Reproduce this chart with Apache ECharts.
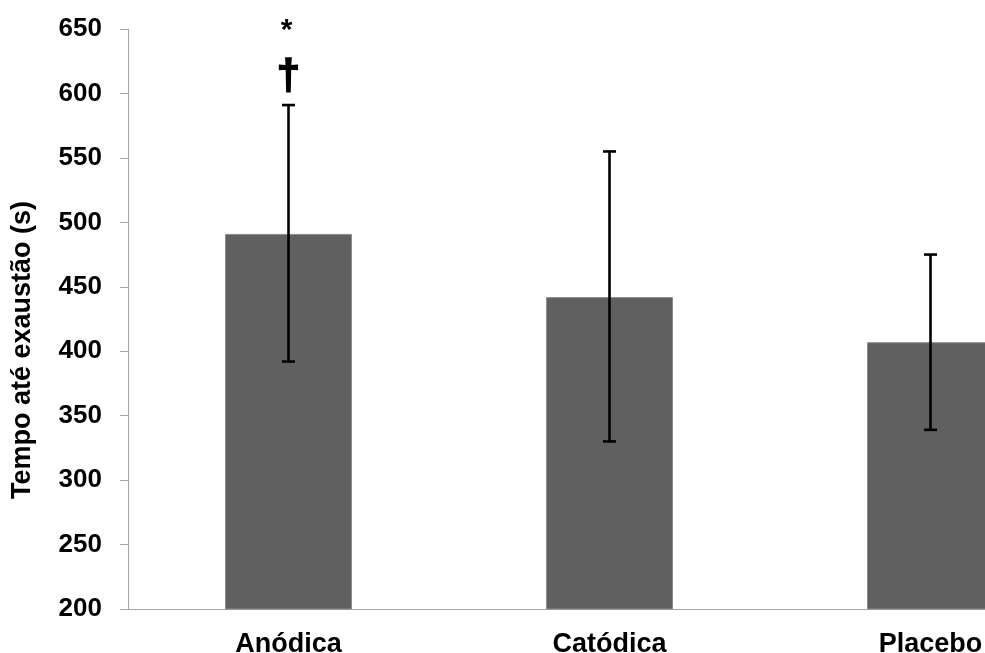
<!DOCTYPE html>
<html>
<head>
<meta charset="utf-8">
<script src="https://cdn.jsdelivr.net/npm/echarts@6/dist/echarts.min.js"></script>
<style>
html,body{margin:0;padding:0;background:#fff;}
#chart{width:985px;height:653px;}
</style>
</head>
<body>
<div id="chart"></div>
<script>
var categories = ['Anódica', 'Catódica', 'Placebo'];
var means = [491, 442, 407];
var errLow = [392, 330, 339];
var errHigh = [591, 555, 475];
var marksAsterisk = ['*', '', ''];
var marksDagger = ['†', '', ''];
var yTicks = [200, 250, 300, 350, 400, 450, 500, 550, 600, 650];

var FONT = '"Liberation Sans", Arial, sans-serif';
var chart = echarts.init(document.getElementById('chart'), null, {renderer: 'canvas'});

var errData = categories.map(function (c, i) { return [i, errLow[i], errHigh[i]]; });

chart.setOption({
  animation: false,
  backgroundColor: '#ffffff',
  grid: {left: 128, top: 29, width: 963, height: 580, containLabel: false, outerBoundsMode: 'none'},
  xAxis: {
    type: 'category',
    data: categories,
    axisLine: {lineStyle: {color: '#a6a6a6', width: 1}},
    axisTick: {show: false},
    axisLabel: {color: '#000', fontFamily: FONT, fontWeight: 'bold', fontSize: 27, margin: 22}
  },
  yAxis: {
    type: 'value',
    min: yTicks[0],
    max: yTicks[yTicks.length - 1],
    interval: 50,
    name: 'Tempo até exaustão (s)',
    nameLocation: 'middle',
    nameRotate: 90,
    nameGap: 92,
    nameTextStyle: {color: '#000', fontFamily: FONT, fontWeight: 'bold', fontSize: 27, padding: [0, 62, 0, 0]},
    axisLine: {show: true, lineStyle: {color: '#a6a6a6', width: 1}},
    axisTick: {show: true, length: 8, lineStyle: {color: '#a6a6a6'}},
    splitLine: {show: false},
    axisLabel: {color: '#000', fontFamily: FONT, fontWeight: 'bold', fontSize: 26, margin: 26}
  },
  series: [
    {
      type: 'bar',
      data: means,
      barWidth: 127,
      itemStyle: {color: '#606060', borderColor: '#8c8c8c', borderWidth: 1}
    },
    {
      type: 'custom',
      data: errData,
      z: 10,
      renderItem: function (params, api) {
        var x = api.value(0);
        var lo = api.coord([x, api.value(1)]);
        var hi = api.coord([x, api.value(2)]);
        var hw = 6.5;
        var st = {stroke: '#000', lineWidth: 2.6};
        var children = [
          {type: 'line', shape: {x1: lo[0], y1: lo[1], x2: hi[0], y2: hi[1]}, style: st},
          {type: 'line', shape: {x1: lo[0] - hw, y1: lo[1], x2: lo[0] + hw, y2: lo[1]}, style: st},
          {type: 'line', shape: {x1: hi[0] - hw, y1: hi[1], x2: hi[0] + hw, y2: hi[1]}, style: st}
        ];
        var i = params.dataIndex;
        if (marksDagger[i]) {
          children.push({type: 'text', style: {text: marksDagger[i], x: hi[0], y: hi[1] - 28, align: 'center', verticalAlign: 'middle', fill: '#000', stroke: '#000', lineWidth: 1.5, font: 'bold 42px ' + FONT}});
        }
        if (marksAsterisk[i]) {
          children.push({type: 'text', style: {text: marksAsterisk[i], x: hi[0] - 2, y: hi[1] - 74, align: 'center', verticalAlign: 'middle', fill: '#000', font: 'bold 30px ' + FONT}});
        }
        return {type: 'group', children: children};
      }
    }
  ]
});
</script>
</body>
</html>
